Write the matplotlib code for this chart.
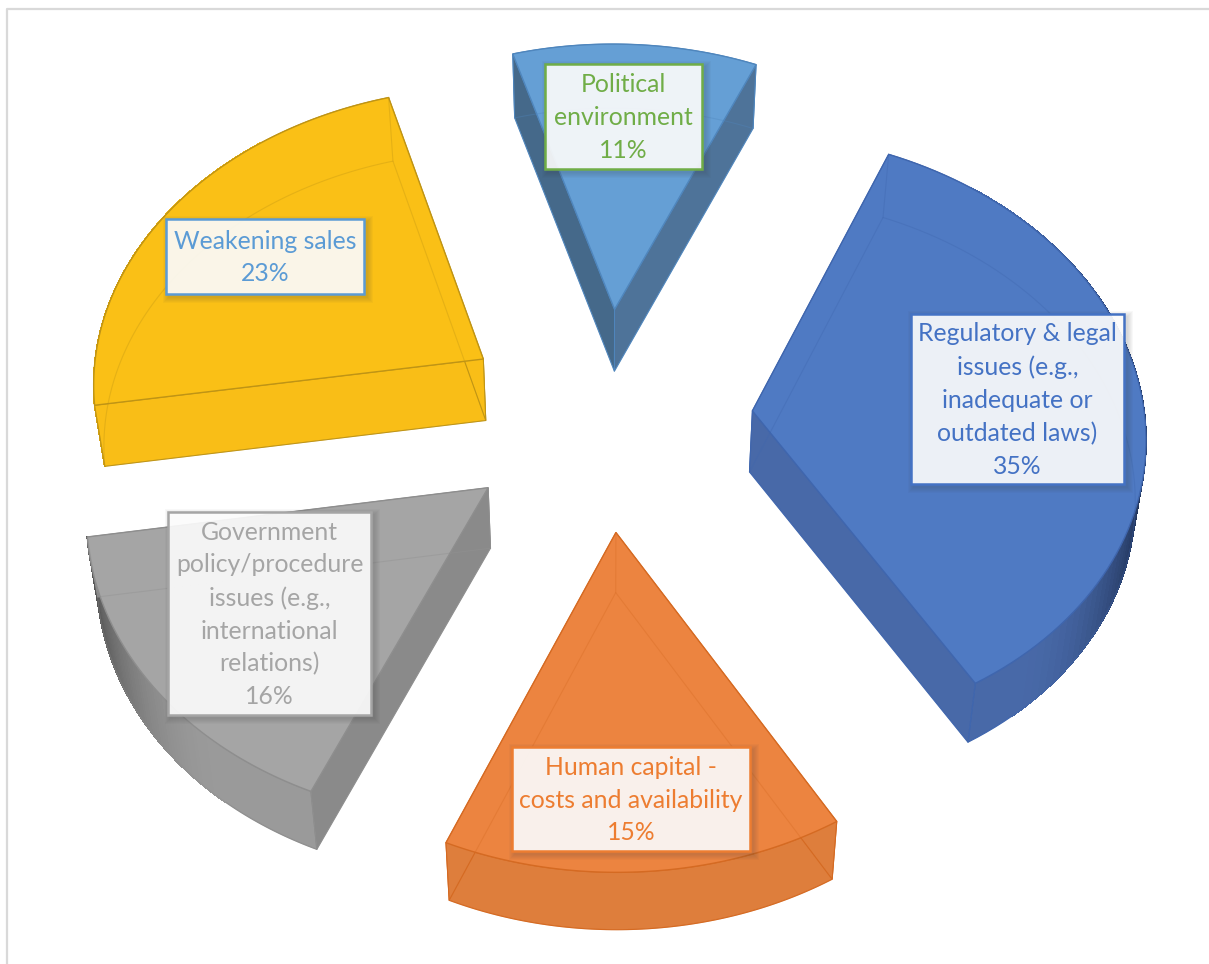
import numpy as np
import matplotlib
matplotlib.use('Agg')
import matplotlib.pyplot as plt
from matplotlib.collections import PolyCollection
from matplotlib.patches import Polygon, Rectangle
from matplotlib.colors import to_rgb

# Clockwise from the start angle
labels = [
    'Political\nenvironment\n11%',
    'Regulatory & legal\nissues (e.g.,\ninadequate or\noutdated laws)\n35%',
    'Human capital -\ncosts and availability\n15%',
    'Government\npolicy/procedure\nissues (e.g.,\ninternational\nrelations)\n16%',
    'Weakening sales\n23%',
]
shares = [11, 35, 15, 16, 23]
top_colors = ['#659FD5', '#4F7AC3', '#EC8440', '#A5A5A5', '#FAC016']
left_cut_colors = ['#45698A', '#4869A8', '#DE7E3C', '#8A8A8A', '#F9BE17']
right_cut_colors = ['#4E7399', '#4869A8', '#DE7E3C', '#8A8A8A', '#F9BE17']
side_colors = ['#4A6F94', '#4869A8', '#DE7E3C', '#9A9A9A', '#F9BE17']
dark_colors = ['#2F4A66', '#1B2C4E', '#C86F33', '#4F4F4F', '#D9A514']
edge_colors = ['#4F86BD', '#3F66AE', '#D56A22', '#8E8E8E', '#BF9415']
text_colors = ['#70AD47', '#4472C4', '#ED7D31', '#A5A5A5', '#5B9BD5']
box_edges = ['#70AD47', '#4472C4', '#ED7D31', '#A5A5A5', '#5B9BD5']

# label box as left, top, right, bottom on the page
boxes = [
    (545, 64, 702, 169),
    (911, 314, 1124, 484),
    (512, 747, 750, 851),
    (168, 512, 371, 715),
    (166, 219, 364, 294),
]

START_ANGLE = -17.0
EXPLODE = 147.0
RADIUS = 393.0
CENTER = (606.0, 418.0)
TILT = 0.76
PERSPECTIVE = 1.8e-4
SHEAR_X = 0.011
SHEAR_Y = -0.013


def project(px, py, bottom=False):
    w = 1 / (1 + PERSPECTIVE * py)
    x = CENTER[0] + (px + SHEAR_X * py) * w
    y = CENTER[1] - TILT * (py + SHEAR_Y * px) * w
    if bottom:
        x = CENTER[0] + (x - CENTER[0]) * 0.98
        y = CENTER[1] + (y - CENTER[1]) * 0.992 + 61
    return x, y


def slice_outline(a0, a1, bottom=False):
    mid = np.radians((a0 + a1) / 2)
    ox, oy = EXPLODE * np.sin(mid), EXPLODE * np.cos(mid)
    ang = np.radians(np.linspace(a0, a1, 80))
    px = np.concatenate([[ox], ox + RADIUS * np.sin(ang)])
    py = np.concatenate([[oy], oy + RADIUS * np.cos(ang)])
    x, y = project(px, py, bottom)
    return np.column_stack([x, y]), ang


def quad(p, q, r, s):
    return np.array([p, q, r, s])


fig = plt.figure(figsize=(12.09, 9.64), dpi=100)
ax = fig.add_axes([0, 0, 1, 1])
ax.set_xlim(0, 1209)
ax.set_ylim(964, 0)
ax.axis('off')

# chart frame, only top and left fall inside the crop
ax.plot([6.5, 6.5, 1209], [964, 8.5, 8.5], color='#D9D9D9', lw=1.6, solid_capstyle='butt')

a0 = START_ANGLE
for i, share in enumerate(shares):
    a1 = a0 + share * 3.6
    top, ang = slice_outline(a0, a1)
    low, _ = slice_outline(a0, a1, bottom=True)

    # outer wall: flat base, then shaded harder where it turns sideways
    wall = np.vstack([top[1:], low[1:][::-1]])
    ax.add_patch(Polygon(wall, closed=True, fc=side_colors[i], ec=edge_colors[i], lw=0.8, zorder=2))
    strips = []
    shades = []
    c_side = np.array(to_rgb(side_colors[i]))
    c_dark = np.array(to_rgb(dark_colors[i]))
    for j in range(1, len(top) - 1):
        t = np.clip((abs(np.sin(ang[j])) - 0.62) / 0.38, 0, 1) ** 2
        if t > 0:
            strips.append(quad(top[j], top[j + 1], low[j + 1], low[j]))
            shades.append(c_side * (1 - t) + c_dark * t)
    if strips:
        ax.add_collection(PolyCollection(strips, facecolors=shades, edgecolors=shades, linewidths=0.6,
                                         antialiaseds=False, zorder=2.5))

    # cut walls
    ax.add_patch(Polygon(quad(top[0], top[1], low[1], low[0]), fc=left_cut_colors[i], ec=edge_colors[i], lw=0.7, zorder=3))
    ax.add_patch(Polygon(quad(top[0], top[-1], low[-1], low[0]), fc=right_cut_colors[i], ec=edge_colors[i], lw=0.7, zorder=3))

    # upper face
    ax.add_patch(Polygon(top, closed=True, fc=top_colors[i], ec=edge_colors[i], lw=1.0, zorder=4))

    # far edges seen through the translucent solid
    ax.add_patch(Polygon(low, closed=True, fill=False, ec=edge_colors[i], lw=0.8, alpha=0.35, zorder=5))
    for k in (0, 1, len(top) - 1):
        ax.plot([top[k, 0], low[k, 0]], [top[k, 1], low[k, 1]], color=edge_colors[i], lw=0.8, alpha=0.35, zorder=5)
    a0 = a1

for label, box, tc, be in zip(labels, boxes, text_colors, box_edges):
    x0, y0, x1, y1 = box
    # soft drop shadow
    for grow in range(6, 0, -1):
        ax.add_patch(Rectangle((x0 - grow + 3, y0 - grow + 3), x1 - x0 + 2 * grow, y1 - y0 + 2 * grow,
                               fc='#404040', ec='none', alpha=0.035, zorder=6))
    ax.add_patch(Rectangle((x0, y0), x1 - x0, y1 - y0, fc='white', ec='none', alpha=0.9, zorder=7))
    ax.add_patch(Rectangle((x0, y0), x1 - x0, y1 - y0, fill=False, ec=be, lw=1.8, zorder=8))
    ax.text((x0 + x1) / 2, (y0 + y1) / 2 + 1, label, color=tc, family='Lato', fontsize=17.8,
            ha='center', va='center', multialignment='center', linespacing=1.51, zorder=9)

fig.savefig('out.png', dpi=100)
